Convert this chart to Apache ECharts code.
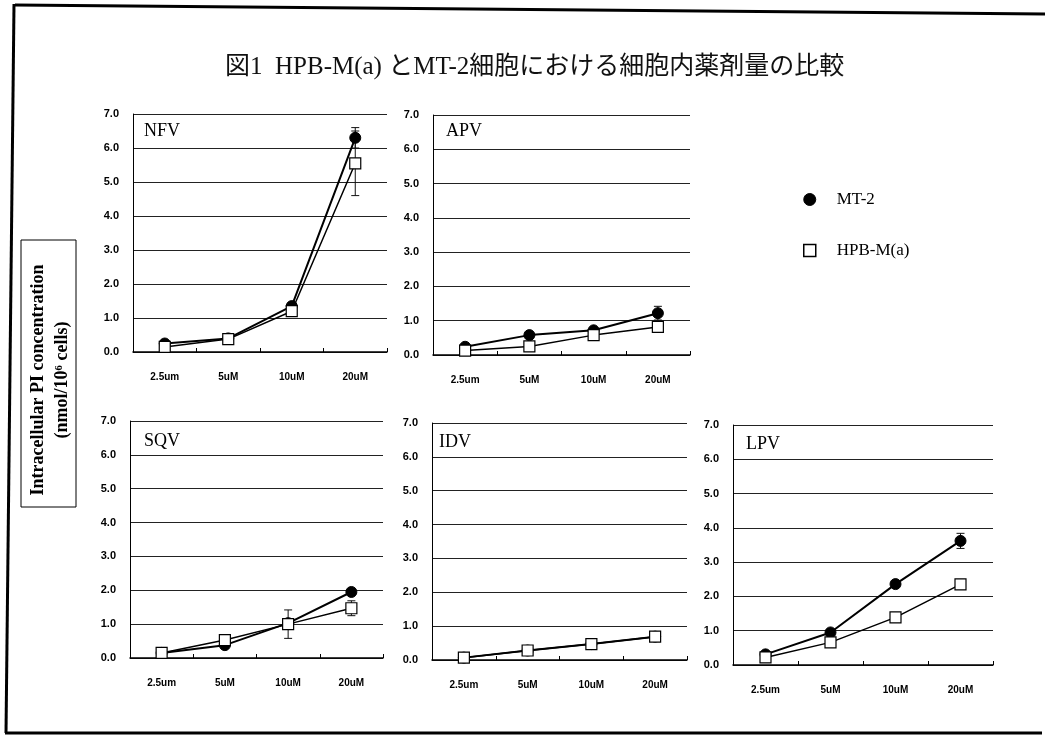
<!DOCTYPE html>
<html>
<head>
<meta charset="utf-8">
<script src="https://cdn.jsdelivr.net/npm/echarts@6/dist/echarts.min.js"></script>
<style>
html,body{margin:0;padding:0;background:#fff;}
#c{width:1045px;height:737px;}
</style>
</head>
<body>
<div id="c"></div>
<script>
// ---- data ----
const categories = ['2.5um', '5uM', '10uM', '20uM'];
const panelNames = ['NFV', 'APV', 'SQV', 'IDV', 'LPV'];
const seriesNames = ['MT-2', 'HPB-M(a)'];

const mt2NFV = [0.25, 0.40, 1.35, 6.30];
const hpbNFV = [0.15, 0.38, 1.20, 5.55];
const mt2NFVerr = [0, 0, 0, 0.30];
const hpbNFVerr = [0, 0, 0, 0.95];

const mt2APV = [0.24, 0.58, 0.72, 1.22];
const hpbAPV = [0.13, 0.25, 0.58, 0.82];
const mt2APVerr = [0, 0, 0, 0.20];
const hpbAPVerr = [0, 0, 0, 0.10];

const mt2SQV = [0.15, 0.38, 1.03, 1.95];
const hpbSQV = [0.15, 0.53, 1.00, 1.47];
const mt2SQVerr = [0, 0, 0, 0.05];
const hpbSQVerr = [0, 0, 0.42, 0.22];

const mt2IDV = [0.07, 0.28, 0.47, 0.69];
const hpbIDV = [0.07, 0.28, 0.47, 0.69];
const mt2IDVerr = [0, 0, 0, 0];
const hpbIDVerr = [0, 0, 0, 0];

const mt2LPV = [0.31, 0.95, 2.36, 3.62];
const hpbLPV = [0.22, 0.66, 1.39, 2.35];
const mt2LPVerr = [0, 0, 0, 0.22];
const hpbLPVerr = [0, 0, 0, 0.05];

const yMin = 0, yMax = 7, yInterval = 1;

const mt2All = [mt2NFV, mt2APV, mt2SQV, mt2IDV, mt2LPV];
const hpbAll = [hpbNFV, hpbAPV, hpbSQV, hpbIDV, hpbLPV];
const mt2ErrAll = [mt2NFVerr, mt2APVerr, mt2SQVerr, mt2IDVerr, mt2LPVerr];
const hpbErrAll = [hpbNFVerr, hpbAPVerr, hpbSQVerr, hpbIDVerr, hpbLPVerr];

// ---- layout ----
const gridBoxes = [
  {left: 133, top: 114, width: 254, height: 238},
  {left: 433, top: 115, width: 257, height: 240},
  {left: 130, top: 421, width: 253, height: 237},
  {left: 432, top: 423, width: 255, height: 237},
  {left: 733, top: 425, width: 260, height: 240}
];
const labelPos = [
  {left: 139, top: 117},
  {left: 441, top: 117},
  {left: 139, top: 427},
  {left: 434, top: 428},
  {left: 741, top: 430}
];

const serif = '"Liberation Serif", "Noto Sans CJK JP", serif';
const sans = '"Liberation Sans", Arial, sans-serif';

const grids = [], xAxes = [], yAxes = [], series = [], titles = [];

titles.push({
  text: '図1  HPB-M(a) とMT-2細胞における細胞内薬剤量の比較',
  left: 220, top: 50,
  textStyle: {fontFamily: serif, fontSize: 25, fontWeight: 'normal', color: '#111'}
});

function errRender(params, api) {
  const x = api.value(0), v = api.value(1), e = api.value(2);
  if (!e) return null;
  const top = api.coord([x, v + e]);
  const bot = api.coord([x, v - e]);
  const cap = 4;
  return {
    type: 'group',
    children: [
      {type: 'line', shape: {x1: top[0], y1: top[1], x2: bot[0], y2: bot[1]}, style: {stroke: '#111', lineWidth: 1}},
      {type: 'line', shape: {x1: top[0] - cap, y1: top[1], x2: top[0] + cap, y2: top[1]}, style: {stroke: '#111', lineWidth: 1}},
      {type: 'line', shape: {x1: bot[0] - cap, y1: bot[1], x2: bot[0] + cap, y2: bot[1]}, style: {stroke: '#111', lineWidth: 1}}
    ]
  };
}

panelNames.forEach((name, i) => {
  grids.push(Object.assign({}, gridBoxes[i]));
  xAxes.push({
    type: 'category', gridIndex: i, data: categories, boundaryGap: true,
    axisLine: {lineStyle: {color: '#000', width: 1.5}},
    axisTick: {show: true, inside: true, length: 4, lineStyle: {color: '#000'}},
    axisLabel: {color: '#000', fontFamily: sans, fontWeight: 'bold', fontSize: 10, margin: 20},
    splitLine: {show: false}
  });
  yAxes.push({
    type: 'value', gridIndex: i, min: yMin, max: yMax, interval: yInterval,
    axisLine: {show: true, lineStyle: {color: '#000', width: 1}},
    axisTick: {show: false},
    axisLabel: {color: '#000', fontFamily: sans, fontWeight: 'bold', fontSize: 11, margin: 14,
      formatter: v => v.toFixed(1)},
    splitLine: {show: true, lineStyle: {color: '#222', width: 1}}
  });
  titles.push({
    text: name, left: labelPos[i].left, top: labelPos[i].top,
    textStyle: {fontFamily: serif, fontSize: 18, fontWeight: 'normal', color: '#000'}
  });
  series.push({
    type: 'custom', xAxisIndex: i, yAxisIndex: i, z: 1, silent: true,
    renderItem: errRender,
    data: mt2All[i].map((v, k) => [k, v, mt2ErrAll[i][k]])
  });
  series.push({
    type: 'custom', xAxisIndex: i, yAxisIndex: i, z: 1, silent: true,
    renderItem: errRender,
    data: hpbAll[i].map((v, k) => [k, v, hpbErrAll[i][k]])
  });
  series.push({
    name: seriesNames[0], type: 'line', xAxisIndex: i, yAxisIndex: i, z: 3,
    data: mt2All[i], symbol: 'circle', symbolSize: 11,
    lineStyle: {color: '#000', width: 2},
    itemStyle: {color: '#000', borderColor: '#000', borderWidth: 1},
    animation: false
  });
  series.push({
    name: seriesNames[1], type: 'line', xAxisIndex: i, yAxisIndex: i, z: 4,
    data: hpbAll[i], symbol: 'rect', symbolSize: 11,
    lineStyle: {color: '#000', width: 1.5},
    itemStyle: {color: '#fff', borderColor: '#000', borderWidth: 1.2},
    animation: false
  });
});

const chart = echarts.init(document.getElementById('c'), null, {renderer: 'canvas'});
chart.setOption({
  backgroundColor: '#fff',
  animation: false,
  title: titles,
  grid: grids,
  xAxis: xAxes,
  yAxis: yAxes,
  legend: {
    orient: 'vertical', left: 798, top: 186, itemGap: 34,
    itemWidth: 12, itemHeight: 12,
    textStyle: {fontFamily: serif, fontSize: 17, color: '#000', padding: [0, 0, 0, 16]},
    data: [
      {name: seriesNames[0], icon: 'circle', itemStyle: {color: '#000', borderColor: '#000', borderWidth: 1}},
      {name: seriesNames[1], icon: 'rect', itemStyle: {color: '#fff', borderColor: '#000', borderWidth: 1.5}}
    ],
    selectedMode: false
  },
  graphic: [
    {type: 'polyline', shape: {points: [[15, 5], [1045, 14]]}, style: {stroke: '#000', lineWidth: 3, fill: null}},
    {type: 'polyline', shape: {points: [[14, 4], [6, 733]]}, style: {stroke: '#000', lineWidth: 3, fill: null}},
    {type: 'polyline', shape: {points: [[5, 733], [1042, 733]]}, style: {stroke: '#000', lineWidth: 3, fill: null}},
    {type: 'rect', shape: {x: 21, y: 240, width: 55, height: 267}, style: {stroke: '#000', lineWidth: 1, fill: '#fff'}},
    {type: 'text', x: 38, y: 380, rotation: Math.PI / 2,
      style: {text: 'Intracellular PI concentration', fontFamily: serif, fontWeight: 'bold', fontSize: 18, fill: '#000', align: 'center', verticalAlign: 'middle'}},
    {type: 'text', x: 62, y: 380, rotation: Math.PI / 2,
      style: {text: '(nmol/10⁶ cells)', fontFamily: serif, fontWeight: 'bold', fontSize: 18, fill: '#000', align: 'center', verticalAlign: 'middle'}}
  ],
  series: series
});
</script>
</body>
</html>
